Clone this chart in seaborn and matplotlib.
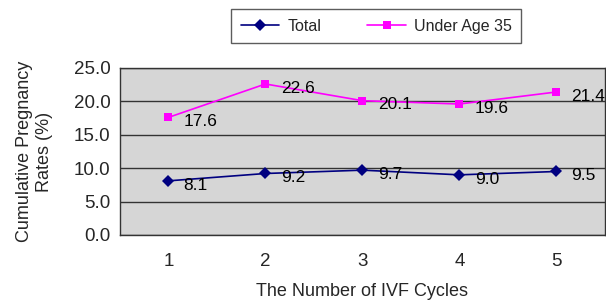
import pandas as pd
import matplotlib.pyplot as plt
import seaborn as sns
from matplotlib.ticker import FixedLocator

# data
cycles = [1, 2, 3, 4, 5]
total = [8.1, 9.2, 9.7, 9.0, 9.5]
under35 = [17.6, 22.6, 20.1, 19.6, 21.4]
series_names = ["Total", "Under Age 35"]
y_ticks = [0, 5, 10, 15, 20, 25]

df = pd.DataFrame({
    "cycle": cycles * 2,
    "rate": total + under35,
    "group": [series_names[0]] * 5 + [series_names[1]] * 5,
})

sns.set_style("white")
plt.rcParams["font.family"] = ["Liberation Sans", "DejaVu Sans"]
plt.rcParams["font.size"] = 11.5

fig = plt.figure(figsize=(6.06, 3.02), dpi=100)
ax = fig.add_axes([0.198, 0.222, 0.80, 0.553])

colors = {"Total": "#000080", "Under Age 35": "#ff00ff"}
sns.lineplot(data=df, x="cycle", y="rate", hue="group", style="group",
             markers={"Total": "D", "Under Age 35": "s"}, dashes=False,
             palette=colors, markersize=6, linewidth=1.2,
             markeredgewidth=0, ax=ax, legend=False)

# data labels
for vals in (total, under35):
    for x, v in zip(cycles, vals):
        ax.annotate(f"{v:.1f}", (x, v), xytext=(11, -3), textcoords="offset points",
                    ha="left", va="center", fontsize=12.5, color="black")

ax.set_facecolor("#d6d6d6")
ax.set_xlim(0.5, 5.5)
ax.set_ylim(0, 25)
ax.set_yticks(y_ticks)
ax.set_yticklabels([f"{t:.1f}" for t in y_ticks])
ax.set_xticks(cycles)
ax.xaxis.set_minor_locator(FixedLocator([1.5, 2.5, 3.5, 4.5]))
ax.tick_params(axis="x", which="major", length=0, pad=13, labelsize=13.5)
ax.tick_params(axis="x", which="minor", length=5, direction="in", color="#333333")
ax.tick_params(axis="y", length=0, pad=7, labelsize=13.5)
ax.grid(axis="y", color="#333333", linewidth=1.0)
ax.set_axisbelow(True)
for s in ax.spines.values():
    s.set_color("#333333")
    s.set_linewidth(1.0)

ax.set_xlabel("The Number of IVF Cycles", labelpad=9, fontsize=13)
ax.set_ylabel("Cumulative Pregnancy\nRates (%)", labelpad=15, fontsize=13)

handles = [plt.Line2D([], [], color=colors[n], marker=m, markersize=6,
                      markeredgewidth=0, linewidth=1.2)
           for n, m in zip(series_names, ["D", "s"])]
leg = fig.legend(handles, series_names, loc="upper right", bbox_to_anchor=(0.86, 0.97),
                 borderaxespad=0, ncol=2, frameon=True, fancybox=False, handlelength=2.4,
                 handletextpad=0.5, columnspacing=2.9, borderpad=0.6, fontsize=11.5)
leg.get_frame().set_edgecolor("#333333")
leg.get_frame().set_linewidth(1.0)

fig.savefig("out.png", dpi=100)
